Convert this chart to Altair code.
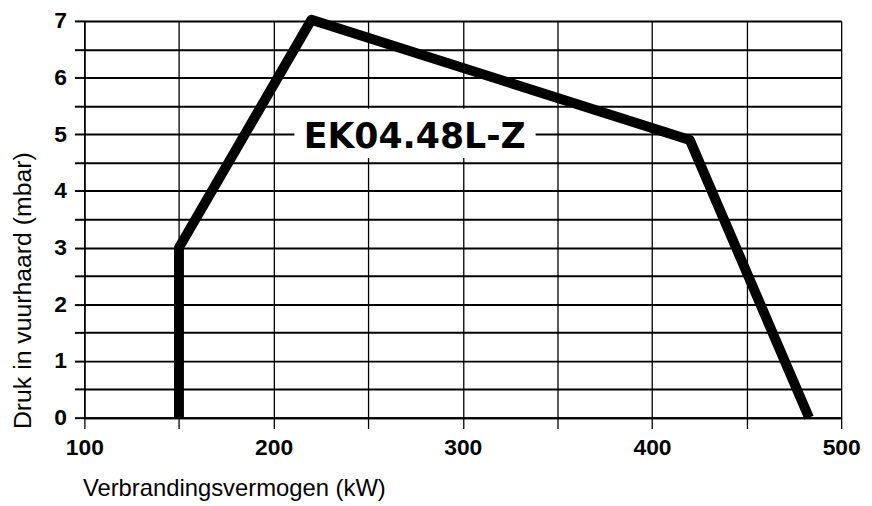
import altair as alt
import pandas as pd

# Curve of the working range
kw = [150, 150, 220, 420, 483]
mbar = [0, 3, 7.02, 4.9, 0]

# Model label and its white backing box
label_text = ["EK04.48L-Z"]
label_kw = [274.6]
label_mbar = [4.76]
box_kw = [211]
box_kw2 = [338.5]
box_mbar = [4.58]
box_mbar2 = [5.45]

x_ticks = [100, 150, 200, 250, 300, 350, 400, 450, 500]
y_ticks = [0, 0.5, 1, 1.5, 2, 2.5, 3, 3.5, 4, 4.5, 5, 5.5, 6, 6.5, 7]

curve = pd.DataFrame({"kw": kw, "mbar": mbar, "i": list(range(len(kw)))})
label = pd.DataFrame({"t": label_text, "kw": label_kw, "mbar": label_mbar})
box = pd.DataFrame({"x": box_kw, "x2": box_kw2, "y": box_mbar, "y2": box_mbar2})

xscale = alt.Scale(domain=[100, 500], nice=False, zero=False)
yscale = alt.Scale(domain=[0, 7], nice=False, zero=True)

xaxis = alt.Axis(
    values=x_ticks,
    labelExpr="datum.value % 100 == 0 ? format(datum.value, 'd') : ''",
    grid=True, gridColor="black", gridWidth=1.3, gridOpacity=1,
    domainColor="black", domainWidth=2,
    tickColor="black", tickWidth=1.3, tickSize=11,
    labelFont="Liberation Sans", labelFontWeight="bold", labelFontSize=23,
    labelColor="black", labelPadding=8, labelFlush=False, labelOverlap=False,
    title="Verbrandingsvermogen (kW)",
    titleFont="Liberation Sans", titleFontWeight="normal", titleFontSize=24,
    titleColor="black", titleAlign="left", titleBaseline="alphabetic",
    titleX=-2, titleY=78, titleAnchor="start",
)
yaxis = alt.Axis(
    values=y_ticks,
    labelExpr="datum.value % 1 == 0 ? format(datum.value, 'd') : ''",
    grid=True, gridColor="black", gridWidth=2, gridOpacity=1,
    domainColor="black", domainWidth=1.5,
    tickColor="black", tickWidth=2, tickSize=10,
    labelFont="Liberation Sans", labelFontWeight="bold", labelFontSize=23,
    labelColor="black", labelPadding=8, labelFlush=False, labelOverlap=False,
    title="Druk in vuurhaard (mbar)",
    titleFont="Liberation Sans", titleFontWeight="normal", titleFontSize=25,
    titleColor="black", titleAngle=-90, titleAlign="left",
    titleBaseline="alphabetic", titleX=-54, titleY=411,
)

line = alt.Chart(curve).mark_line(
    color="black", strokeWidth=10, strokeCap="butt", strokeJoin="round"
).encode(
    x=alt.X("kw:Q", scale=xscale, axis=xaxis),
    y=alt.Y("mbar:Q", scale=yscale, axis=yaxis),
    order="i:O",
)

rect = alt.Chart(box).mark_rect(color="white", opacity=1).encode(
    x=alt.X("x:Q", scale=xscale, axis=xaxis), x2="x2:Q",
    y=alt.Y("y:Q", scale=yscale, axis=yaxis), y2="y2:Q",
)

text = alt.Chart(label).mark_text(
    font="DejaVu Sans", fontWeight="bold", fontSize=35, color="black",
    align="center", baseline="alphabetic",
).encode(
    x=alt.X("kw:Q", scale=xscale, axis=xaxis),
    y=alt.Y("mbar:Q", scale=yscale, axis=yaxis),
    text="t:N",
)

chart = alt.layer(line, rect, text).properties(
    width=763, height=400,
    autosize=alt.AutoSizeParams(type="none"),
    padding={"left": 77, "top": 11, "right": 23, "bottom": 82},
    background="white",
).configure_view(stroke=None)

chart.save("out.html", embed_options={"renderer": "svg", "actions": False})
